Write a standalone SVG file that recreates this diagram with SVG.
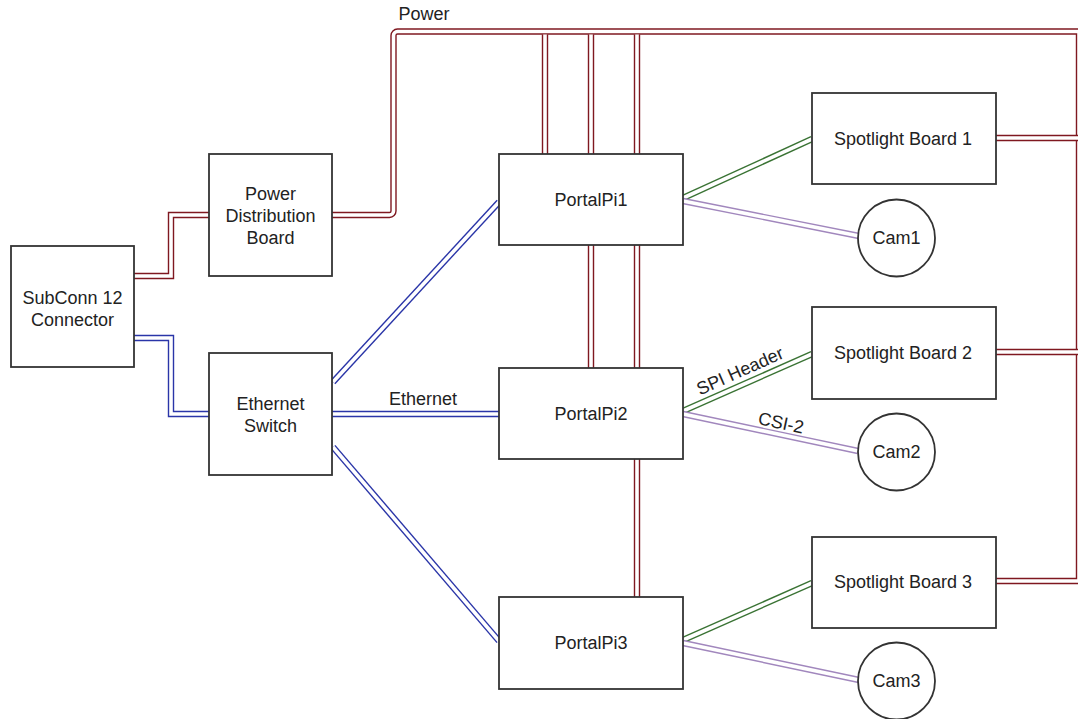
<svg xmlns="http://www.w3.org/2000/svg" width="1078" height="719" viewBox="0 0 1078 719">
<style>
.box{fill:#fff;stroke:#333;stroke-width:1.8}
.t{font-family:"Liberation Sans",Arial,sans-serif;font-size:18px;fill:#222;text-anchor:middle;dominant-baseline:central}
.o{fill:none;stroke-width:6.4}
.i{fill:none;stroke:#fff;stroke-width:3.6}
.pw{stroke:#7f1820}
.et{stroke:#2a35a8}
.sp{stroke:#3a7334}
.cs{stroke:#a187bd}
</style>
<rect width="1078" height="719" fill="#fff"/>
<g id="connectors">
  <path class="o pw" d="M332 215 H389.5 A4 4 0 0 0 393.5 211 V35.5 A4 4 0 0 1 397.5 31.5 H1079 V581 H996"/>
  <path class="i" d="M332 215 H389.5 A4 4 0 0 0 393.5 211 V35.5 A4 4 0 0 1 397.5 31.5 H1079 V581 H996"/>
  <path class="o pw" d="M996 138 H1082"/><path class="i" d="M996 138 H1082"/>
  <path class="o pw" d="M996 352 H1082"/><path class="i" d="M996 352 H1082"/>
  <path class="o pw" d="M545 34.5 V154"/><path class="i" d="M545 34.5 V154"/>
  <path class="o pw" d="M591 34.5 V368"/><path class="i" d="M591 34.5 V368"/>
  <path class="o pw" d="M637 34.5 V597"/><path class="i" d="M637 34.5 V597"/>
  <path class="o pw" d="M134 276 H171 V215 H209"/><path class="i" d="M134 276 H171 V215 H209"/>
  <path class="o et" d="M134 338 H171 V414 H209"/><path class="i" d="M134 338 H171 V414 H209"/>
  <path class="o et" d="M333 382 L499 202"/><path class="i" d="M333 382 L499 202"/>
  <path class="o et" d="M332 414 H499"/><path class="i" d="M332 414 H499"/>
  <path class="o et" d="M333 447 L499 641"/><path class="i" d="M333 447 L499 641"/>
  <path class="o sp" d="M683 198 L812 139"/><path class="i" d="M683 198 L812 139"/>
  <path class="o sp" d="M683 411 L812 354"/><path class="i" d="M683 411 L812 354"/>
  <path class="o sp" d="M683 640 L812 583"/><path class="i" d="M683 640 L812 583"/>
  <path class="o cs" d="M683 201 L859 236"/><path class="i" d="M683 201 L859 236"/>
  <path class="o cs" d="M683 414 L858 451"/><path class="i" d="M683 414 L858 451"/>
  <path class="o cs" d="M683 643 L859 680"/><path class="i" d="M683 643 L859 680"/>
  <text class="t" x="424" y="14">Power</text>
  <text class="t" x="423" y="399">Ethernet</text>
  <text class="t" x="740" y="371" transform="rotate(-24 740 371)">SPI Header</text>
  <text class="t" x="781" y="423" transform="rotate(12 781 423)">CSI-2</text>
</g>
<g id="subconn"><rect class="box" x="11" y="246" width="123" height="121"/><text class="t" x="72.5" y="298">SubConn 12</text><text class="t" x="72.5" y="320">Connector</text></g>
<g id="pdb"><rect class="box" x="209" y="154" width="123" height="122"/><text class="t" x="270.5" y="194">Power</text><text class="t" x="270.5" y="216">Distribution</text><text class="t" x="270.5" y="238">Board</text></g>
<g id="switch"><rect class="box" x="209" y="353" width="123" height="122"/><text class="t" x="270.5" y="404">Ethernet</text><text class="t" x="270.5" y="426">Switch</text></g>
<g id="pi1"><rect class="box" x="499" y="154" width="184" height="91"/><text class="t" x="591" y="199.5">PortalPi1</text></g>
<g id="pi2"><rect class="box" x="499" y="368" width="184" height="91"/><text class="t" x="591" y="413.5">PortalPi2</text></g>
<g id="pi3"><rect class="box" x="499" y="597" width="184" height="92"/><text class="t" x="591" y="643">PortalPi3</text></g>
<g id="sb1"><rect class="box" x="812" y="93" width="184" height="91"/><text class="t" x="903" y="139">Spotlight Board 1</text></g>
<g id="sb2"><rect class="box" x="812" y="307" width="184" height="92"/><text class="t" x="903" y="353">Spotlight Board 2</text></g>
<g id="sb3"><rect class="box" x="812" y="537" width="184" height="91"/><text class="t" x="903" y="582">Spotlight Board 3</text></g>
<g id="cam1"><circle class="box" cx="896.5" cy="238" r="38.5"/><text class="t" x="896.5" y="238">Cam1</text></g>
<g id="cam2"><circle class="box" cx="896.5" cy="452" r="38.5"/><text class="t" x="896.5" y="452">Cam2</text></g>
<g id="cam3"><circle class="box" cx="896.5" cy="681" r="38.5"/><text class="t" x="896.5" y="681">Cam3</text></g>
</svg>
